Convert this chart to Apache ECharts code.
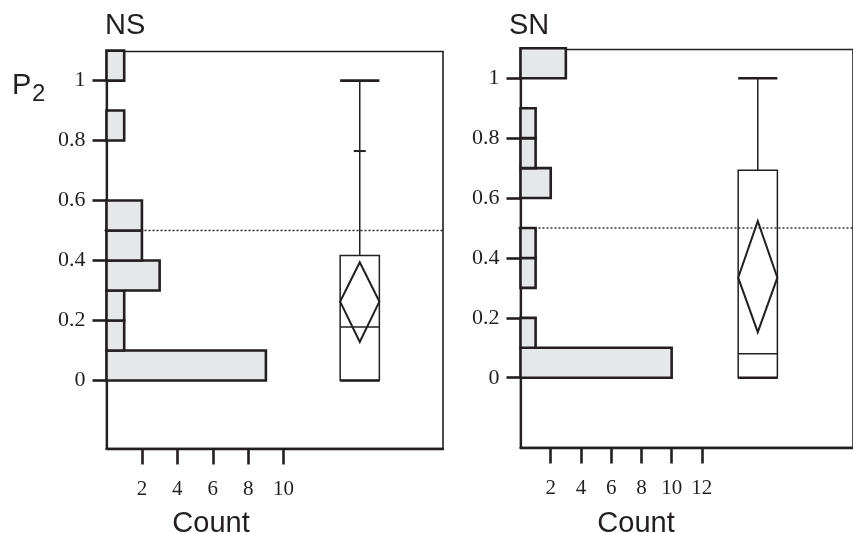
<!DOCTYPE html>
<html>
<head>
<meta charset="utf-8">
<script src="https://cdn.jsdelivr.net/npm/echarts@6/dist/echarts.min.js"></script>
<style>
  html, body { margin: 0; padding: 0; background: #fff; }
  #chart { width: 853px; height: 533px; }
</style>
</head>
<body>
<div id="chart"></div>
<script>
// histogram bins of P2 (start of each 0.1-wide bin)
var binStarts = [0, 0.1, 0.2, 0.3, 0.4, 0.5, 0.6, 0.7, 0.8, 0.9, 1.0];
var binWidth = 0.1;
// counts per bin
var nsCounts = [9, 1, 1, 3, 2, 2, 0, 0, 1, 0, 1];
var snCounts = [10, 1, 0, 1, 1, 0, 2, 1, 1, 0, 3];
// box plot: [q1, median, q3]
var nsBox = [0, 0.178, 0.417];
var snBox = [0, 0.08, 0.693];
// whiskers: [low, high]
var nsWhisker = [0, 1.0];
var snWhisker = [0, 1.0];
// mean diamond: [lower ci, mean, upper ci]
var nsMean = [0.128, 0.263, 0.394];
var snMean = [0.152, 0.334, 0.523];
// extra quantile mark on whisker
var nsMarks = [0.765];
var snMarks = [];
// tick labels
var yTicks = [0, 0.2, 0.4, 0.6, 0.8, 1];
var nsCountTicks = [2, 4, 6, 8, 10];
var snCountTicks = [2, 4, 6, 8, 10, 12];
var refLine = 0.5;

var ink = '#231f20';
var serif = 'Liberation Serif';
var sans = 'Liberation Sans';

function histData(counts) {
    return counts.map(function (c, i) {
        return [c, binStarts[i], +(binStarts[i] + binWidth).toFixed(2)];
    });
}

function renderBar(params, api) {
    var c = api.value(0);
    if (!c) return null;
    var p0 = api.coord([0, api.value(1)]);
    var p1 = api.coord([c, api.value(2)]);
    return {
        type: 'rect',
        shape: { x: p0[0], y: p1[1], width: p1[0] - p0[0], height: p0[1] - p1[1] },
        style: { fill: '#e6e7e9', stroke: ink, lineWidth: 2.6 }
    };
}

// box + whisker + mean diamond, centred at count position "cx"
function boxSeries(idx, cx, box, whisker, mean, marks) {
    var half = 19.6;
    return {
        type: 'custom',
        xAxisIndex: idx, yAxisIndex: idx,
        z: 5,
        data: [[cx, box[0], box[1], box[2], whisker[0], whisker[1], mean[0], mean[1], mean[2]]],
        renderItem: function (params, api) {
            var x = api.coord([api.value(0), 0])[0];
            var y = function (v) { return api.coord([0, v])[1]; };
            var l = x - half, r = x + half;
            var thin = { stroke: ink, lineWidth: 1.5, fill: null };
            var thick = { stroke: ink, lineWidth: 2.6, fill: null };
            var kids = [
                { type: 'line', shape: { x1: x, y1: y(api.value(3)), x2: x, y2: y(api.value(5)) }, style: thin },
                { type: 'line', shape: { x1: x, y1: y(api.value(1)), x2: x, y2: y(api.value(4)) }, style: thin },
                { type: 'rect', shape: { x: l, y: y(api.value(3)), width: r - l, height: y(api.value(1)) - y(api.value(3)) }, style: thin },
                { type: 'line', shape: { x1: l, y1: y(api.value(2)), x2: r, y2: y(api.value(2)) }, style: thin },
                { type: 'line', shape: { x1: l, y1: y(api.value(5)), x2: r, y2: y(api.value(5)) }, style: thick },
                { type: 'line', shape: { x1: l, y1: y(api.value(4)), x2: r, y2: y(api.value(4)) }, style: thick },
                {
                    type: 'polygon',
                    shape: { points: [[x, y(api.value(8))], [r, y(api.value(7))], [x, y(api.value(6))], [l, y(api.value(7))]] },
                    style: { stroke: ink, lineWidth: 2, fill: null }
                }
            ];
            marks.forEach(function (m) {
                kids.push({ type: 'line', shape: { x1: x - 6, y1: y(m), x2: x + 6, y2: y(m) }, style: { stroke: ink, lineWidth: 2 } });
            });
            return { type: 'group', children: kids };
        }
    };
}

function refSeries(idx, xmax) {
    return {
        type: 'custom',
        xAxisIndex: idx, yAxisIndex: idx,
        z: 1,
        data: [[refLine]],
        renderItem: function (params, api) {
            var a = api.coord([0, api.value(0)]);
            var b = api.coord([xmax, api.value(0)]);
            return {
                type: 'line',
                shape: { x1: a[0] - 2, y1: a[1], x2: b[0], y2: b[1] },
                style: { stroke: ink, lineWidth: 1.4, lineDash: [2, 2] }
            };
        }
    };
}

function xAxis(idx, max, ticks) {
    return {
        type: 'value', gridIndex: idx, min: 0, max: max,
        splitLine: { show: false },
        axisLine: { show: true, onZero: false, lineStyle: { color: ink, width: 2.4 } },
        axisTick: { show: true, length: 16, customValues: ticks, lineStyle: { color: ink, width: 2.6 } },
        axisLabel: { customValues: ticks, margin: 30, color: ink, fontFamily: serif, fontSize: 21 }
    };
}

function yAxis(idx, min, max) {
    return {
        type: 'value', gridIndex: idx, min: min, max: max,
        splitLine: { show: false },
        axisLine: { show: true, onZero: false, lineStyle: { color: ink, width: 2.2 } },
        axisTick: { show: true, length: 14, customValues: yTicks, lineStyle: { color: ink, width: 2.6 } },
        axisLabel: { customValues: yTicks, margin: 21, color: ink, fontFamily: serif, fontSize: 22 }
    };
}

var chart = echarts.init(document.getElementById('chart'), null, { renderer: 'canvas' });

var option = {
    animation: false,
    backgroundColor: '#fff',
    grid: [
        { left: 106.5, top: 51.5, width: 336.5, height: 397, show: true, borderColor: ink, borderWidth: 1.6 },
        { left: 520.5, top: 49.5, width: 349.8, height: 398, show: true, borderColor: ink, borderWidth: 1.6 }
    ],
    xAxis: [xAxis(0, 19, nsCountTicks), xAxis(1, 22, snCountTicks)],
    yAxis: [yAxis(0, -0.227, 1.097), yAxis(1, -0.233, 1.096)],
    series: [
        refSeries(0, 19),
        refSeries(1, 22),
        { type: 'custom', xAxisIndex: 0, yAxisIndex: 0, z: 3, data: histData(nsCounts), renderItem: renderBar },
        { type: 'custom', xAxisIndex: 1, yAxisIndex: 1, z: 3, data: histData(snCounts), renderItem: renderBar },
        boxSeries(0, 14.3, nsBox, nsWhisker, nsMean, nsMarks),
        boxSeries(1, 15.7, snBox, snWhisker, snMean, snMarks)
    ],
    graphic: [
        { type: 'text', left: 105, top: 11, style: { text: 'NS', font: '29px ' + sans, fill: ink } },
        { type: 'text', left: 509, top: 11, style: { text: 'SN', font: '29px ' + sans, fill: ink } },
        { type: 'text', left: 12, top: 71, style: { text: 'P', font: '29px ' + sans, fill: ink } },
        { type: 'text', left: 32, top: 82, style: { text: '2', font: '24px ' + sans, fill: ink } },
        { type: 'text', x: 211, y: 509, style: { text: 'Count', font: '29px ' + sans, fill: ink, align: 'center', verticalAlign: 'top' } },
        { type: 'text', x: 636, y: 509, style: { text: 'Count', font: '29px ' + sans, fill: ink, align: 'center', verticalAlign: 'top' } }
    ]
};

chart.setOption(option);
</script>
</body>
</html>
